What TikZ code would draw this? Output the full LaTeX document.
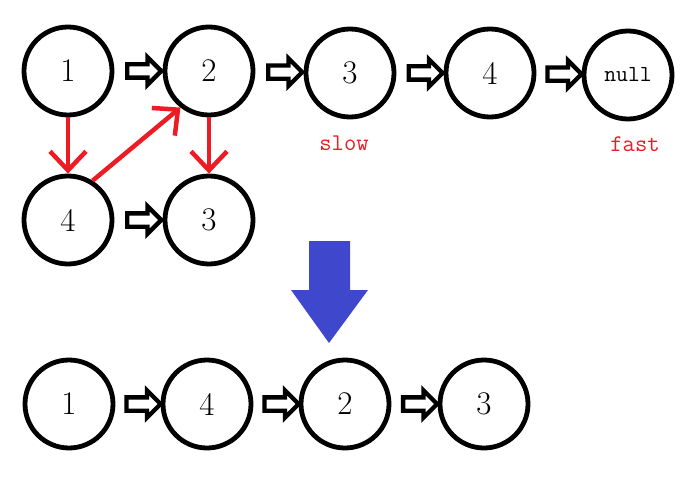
\documentclass[tikz,border=0pt]{standalone}
\usepackage{fontspec}
\usetikzlibrary{shapes.arrows,arrows.meta,calc}
\definecolor{mspred}{HTML}{ED1C24}
\definecolor{mspblue}{HTML}{3F48CC}
\begin{document}
\begin{tikzpicture}[x=1pt,y=-1pt,
  listnode/.style={circle,draw=black,line width=4.8pt,minimum size=88pt,
    inner sep=0pt,font=\fontsize{33}{33}\selectfont},
  hollow/.style={single arrow,draw=black,fill=white,line width=4.3pt,
    inner sep=0pt,inner ysep=4.5pt,minimum width=0pt,minimum height=34pt,
    single arrow head extend=7pt,single arrow tip angle=90,line join=miter},
  redarrow/.style={draw=mspred,line width=4.5pt,
    -{Straight Barb[length=19pt,width=36pt,line width=4.5pt]}},
  tag/.style={text=mspred,font=\ttfamily\fontsize{24}{24}\selectfont,inner sep=0pt}
]
\useasboundingbox (0,0) rectangle (700,484);

% original list
\node[listnode] (t1) at (68,71) {1};
\node[listnode] (t2) at (209,71) {2};
\node[listnode] (t3) at (350,73) {3};
\node[listnode] (t4) at (490,73) {4};
\node[listnode,font=\ttfamily\fontsize{23}{23}\selectfont] (tn) at (628,75) {null};

\node[tag] (slow) at (344,143) {slow};
\node[tag] (fast) at (635,144) {fast};

% second row
\node[listnode] (m4) at (68,220) {4};
\node[listnode] (m3) at (209,220) {3};

% reordered list
\node[listnode] (b1) at (69,404) {1};
\node[listnode] (b4) at (207,404) {4};
\node[listnode] (b2) at (345,404) {2};
\node[listnode] (b3) at (484,404) {3};

% next pointers
\foreach \a/\b in {t1/t2,t2/t3,t3/t4,t4/tn,m4/m3,b1/b4,b4/b2,b2/b3}
  \node[hollow] (h-\a-\b) at ($(\a.east)!0.55!(\b.west)$) {};

% relinking steps
\draw[redarrow] (t1.south) -- (m4.north);
\draw[redarrow] (t2.south) -- (m3.north);
\draw[redarrow] (m4.58) -- (t2.232);

% result arrow
\fill[mspblue] (309,241) -- (350,241) -- (350,290) -- (368,290)
  -- (329,343) -- (291,290) -- (309,290) -- cycle;
\end{tikzpicture}
\end{document}
